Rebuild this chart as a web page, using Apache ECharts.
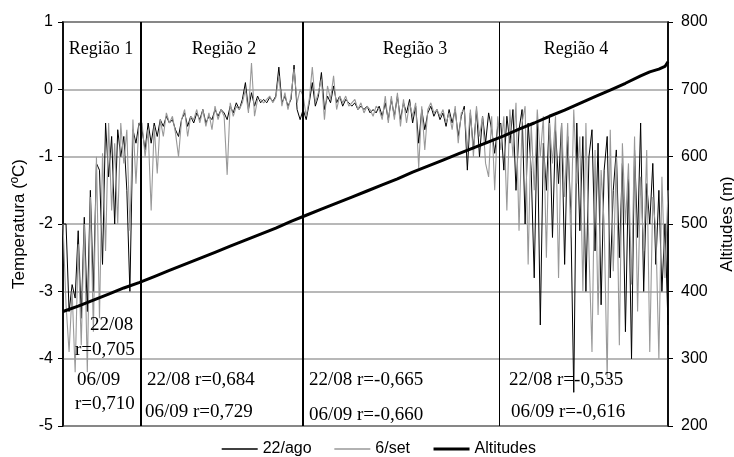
<!DOCTYPE html>
<html>
<head>
<meta charset="utf-8">
<script src="https://cdn.jsdelivr.net/npm/echarts@6/dist/echarts.min.js"></script>
<style>
html,body{margin:0;padding:0;background:#fff;}
#main{width:734px;height:457px;}
</style>
</head>
<body>
<div id="main"></div>
<script>
// temperatura 22/ago (preto), por ponto do percurso
var t22 = [
 -2.0,-2.0,-3.3,-2.9,-3.1,-2.1,-3.4,-1.9,-3.3,-1.5,-3.0,-1.1,-1.2,-2.6,-0.5,-1.3,-0.7,-2.0,-0.6,-1.0,-0.7,-1.5,-3.0,-0.6,-0.8,-0.5,
 -0.6,-0.9,-0.5,-0.8,-0.5,-0.7,-0.45,-0.55,-0.4,-0.5,-0.45,-0.6,-0.7,-0.45,-0.35,-0.55,-0.4,-0.5,-0.35,-0.45,-0.3,-0.5,-0.4,-0.45,
 -0.3,-0.4,-0.3,-0.35,-0.45,-0.25,-0.35,-0.2,-0.3,-0.15,0.1,-0.3,-0.05,-0.25,-0.1,-0.2,-0.15,-0.2,-0.12,-0.18,-0.1,0.33,-0.2,-0.1,
 -0.25,-0.15,0.36,-0.3,-0.45,
 -0.3,-0.45,-0.2,0.1,-0.25,-0.1,0.25,-0.3,-0.1,-0.2,0.05,-0.2,-0.1,-0.25,-0.15,-0.2,-0.25,-0.2,-0.3,-0.25,-0.3,-0.25,-0.35,-0.3,
 -0.35,-0.25,-0.4,-0.2,-0.45,-0.15,-0.4,-0.1,-0.45,-0.2,-0.35,-0.15,-0.5,-0.25,-0.8,-0.3,-0.6,-0.35,-0.25,-0.4,-0.3,-0.45,-0.35,
 -0.55,-0.3,-0.5,-0.3,-0.7,-0.4,-0.25,-1.2,-0.35,-0.9,-0.3,-1.0,-0.4,-0.8,-0.35,-0.6,-0.95,-0.55,
 -0.5,-1.2,-0.4,-0.8,-0.3,-1.5,-0.6,-0.3,-2.0,-0.5,-1.2,-2.8,-0.5,-3.5,-0.8,-1.5,-0.4,-2.2,-0.6,-1.4,-0.5,-2.6,-0.7,-1.8,-4.5,
 -0.5,-2.1,-0.7,-3.0,-1.0,-0.6,-2.4,-0.8,-3.2,-1.2,-0.7,-2.8,-1.5,-0.9,-2.5,-1.1,-3.6,-1.3,-4.0,-0.9,-2.2,-0.5,-3.0,-1.4,-2.0,
 -1.1,-2.6,-1.5,-3.0,-2.0,-3.5
];
// temperatura 6/set (cinza)
var t06 = [
 -2.0,-3.2,-3.9,-3.0,-4.2,-2.3,-3.8,-2.0,-4.2,-1.6,-3.6,-1.0,-3.4,-0.95,-2.4,-0.5,-1.8,-0.8,-2.0,-0.5,-1.1,-0.6,-2.1,-0.45,-1.4,-0.5,
 -0.5,-1.0,-0.6,-1.8,-0.55,-1.25,-0.45,-0.7,-0.35,-0.5,-0.4,-0.65,-1.0,-0.45,-0.3,-0.7,-0.4,-0.45,-0.3,-0.5,-0.3,-0.55,-0.35,-0.6,
 -0.25,-0.45,-0.3,-0.4,-1.27,-0.2,-0.4,-0.25,-0.3,-0.2,0.0,-0.35,0.39,-0.4,-0.15,-0.15,-0.2,-0.15,-0.1,-0.2,-0.12,0.2,-0.25,-0.05,
 -0.3,-0.1,0.3,-0.2,0.0,
 -0.1,-0.4,-0.15,0.33,-0.2,-0.05,0.15,-0.45,0.05,-0.15,0.2,-0.3,-0.1,-0.2,-0.1,-0.25,-0.2,-0.15,-0.3,-0.2,-0.35,-0.25,-0.3,-0.4,
 -0.25,-0.3,-0.45,-0.1,-0.5,-0.1,-0.45,-0.05,-0.55,-0.15,-0.5,-0.2,-0.4,-0.2,-1.17,-0.25,-0.9,-0.3,-0.2,-0.35,-0.3,-0.4,-0.3,
 -0.5,-0.35,-0.6,-0.25,-0.8,-0.35,-0.3,-0.9,-0.3,-1.0,-0.25,-0.7,-0.4,-1.1,-1.3,-0.4,-1.5,-0.4,
 -0.9,-0.4,-1.8,-0.3,-1.0,-0.2,-2.1,-0.5,-0.25,-2.6,-0.5,-1.5,-0.3,-1.0,-0.4,-2.5,-0.5,-1.1,-0.4,-2.8,-0.5,-1.6,-0.5,-2.2,-0.3,
 -1.4,-0.7,-3.0,-0.5,-2.4,-3.9,-0.9,-3.35,-1.2,-2.0,-4.3,-0.6,-2.7,-1.0,-3.8,-0.8,-2.0,-1.1,-2.9,-0.7,-3.3,-1.3,-2.4,-0.9,-3.9,
 -1.6,-2.1,-4.0,-1.3,-2.8,-1.5
];
// altitude (m) lida ao longo do percurso: [ponto, altitude]
var altPonto = [0,5,10,15,20,25,30,35,40,45,50,55,60,65,70,75,80,85,90,95,100,105,110,115,120,125,130,135,140,145,150,155,160,165,170,175,180,185,190,193,196,198,199];
var altValor = [370,378,387,396,405,413,422,431,440,449,458,467,476,485,494,504,513,522,531,540,549,558,567,577,586,595,604,613,622,631,641,650,660,669,679,689,699,709,720,726,730,734,741];
// limites das regioes (em pontos)
var limites = [25.7, 78.7, 143.4];
var tempTicks = [-5, 1, 1];
var altTicks = [200, 800, 100];

var sans = 'Liberation Sans, Arial, sans-serif';
var serif = 'Liberation Serif, Times New Roman, serif';

var xs = [];
for (var i = 0; i < t22.length; i++) xs.push(i);
function pares(x, y){
	var r = [];
	for (var i = 0; i < y.length; i++) r.push([x[i], y[i]]);
	return r;
}

function texto(txt, x, y, size, align){
	return {type:'text', silent:true, z:100,
		style:{text:txt, x:x, y:y, font:size + 'px ' + serif, fill:'#000',
			textAlign:align || 'left', textVerticalAlign:'middle'}};
}

var chart = echarts.init(document.getElementById('main'), null, {renderer:'canvas'});
var option = {
	animation:false,
	backgroundColor:'#fff',
	grid:{left:63, right:66, top:22, bottom:31, outerBoundsMode:'none', containLabel:false,
		show:true, borderColor:'#000', borderWidth:1.5, backgroundColor:'transparent'},
	//legenda so com linha, sem simbolo
	legend:{
		left:216, top:436,
		itemWidth:36, itemHeight:14, itemGap:22,
		itemStyle:{opacity:0},
		textStyle:{fontFamily:sans, fontSize:16, color:'#000'},
		data:[
			{name:'22/ago', lineStyle:{width:1.4, color:'#000'}},
			{name:'6/set', lineStyle:{width:1.4, color:'#999'}},
			{name:'Altitudes', lineStyle:{width:3, color:'#000'}}
		]
	},
	xAxis:{type:'value', min:0, max:t22.length - 1, show:false},
	yAxis:[{
		type:'value', min:tempTicks[0], max:tempTicks[1], interval:tempTicks[2],
		name:'Temperatura (ºC)', nameLocation:'middle', nameGap:34,
		nameTextStyle:{fontFamily:sans, fontSize:17, color:'#000'},
		axisLine:{show:true, lineStyle:{color:'#000', width:1.5}},
		axisTick:{show:true, inside:false, length:5, lineStyle:{color:'#000'}},
		axisLabel:{fontFamily:sans, fontSize:16, color:'#000', margin:10},
		splitLine:{show:true, lineStyle:{color:'#a0a0a0', width:1.5}}
	},{
		type:'value', min:altTicks[0], max:altTicks[1], interval:altTicks[2],
		name:'Altitudes (m)', nameLocation:'middle', nameGap:49, nameRotate:90,
		nameTextStyle:{fontFamily:sans, fontSize:17, color:'#000'},
		axisLine:{show:true, lineStyle:{color:'#000', width:1.5}},
		axisTick:{show:true, inside:false, length:5, lineStyle:{color:'#000'}},
		axisLabel:{fontFamily:sans, fontSize:16, color:'#000', margin:13},
		splitLine:{show:false}
	}],
	series:[{
		name:'22/ago', type:'line', yAxisIndex:0,
		data:pares(xs, t22), symbol:'none', color:'#000',
		lineStyle:{color:'#000', width:1},
		markLine:{
			silent:true, symbol:'none', label:{show:false},
			data:[
				{xAxis:limites[0], lineStyle:{color:'#000', width:2, type:'solid'}},
				{xAxis:limites[1], lineStyle:{color:'#000', width:2, type:'solid'}},
				{xAxis:limites[2], lineStyle:{color:'#000', width:1, type:'solid'}}
			]
		}
	},{
		name:'6/set', type:'line', yAxisIndex:0,
		data:pares(xs, t06), symbol:'none', color:'#999',
		lineStyle:{color:'#999', width:1.1}
	},{
		name:'Altitudes', type:'line', yAxisIndex:1,
		data:pares(altPonto, altValor), symbol:'none', color:'#000',
		lineStyle:{color:'#000', width:3}, z:5
	}],
	graphic:[
		texto('Região 1', 101, 49, 18, 'center'),
		texto('Região 2', 224, 49, 18, 'center'),
		texto('Região 3', 415, 49, 18, 'center'),
		texto('Região 4', 576, 49, 18, 'center'),
		texto('22/08', 90, 325, 19),
		texto('r=0,705', 75, 350, 19),
		texto('06/09', 77, 380, 19),
		texto('r=0,710', 75, 404, 19),
		texto('22/08 r=0,684', 147, 380, 19),
		texto('06/09 r=0,729', 145, 412, 19),
		texto('22/08 r=-0,665', 309, 380, 19),
		texto('06/09 r=-0,660', 309, 415, 19),
		texto('22/08 r=-0,535', 509, 380, 19),
		texto('06/09 r=-0,616', 511, 412, 19)
	]
};
chart.setOption(option);
</script>
</body>
</html>
